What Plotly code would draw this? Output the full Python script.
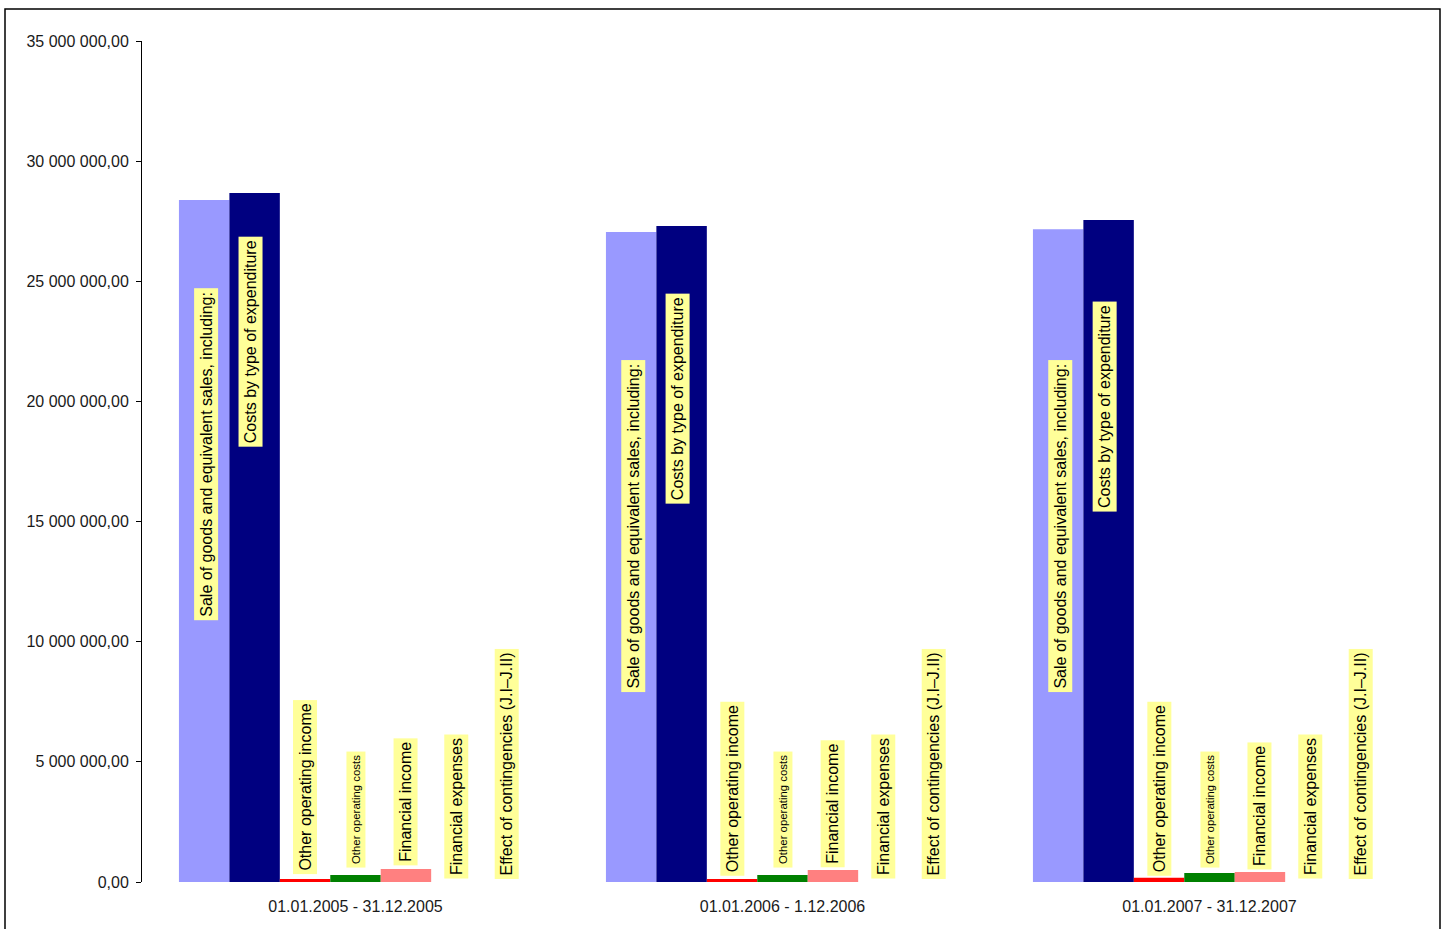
import plotly.graph_objects as go

# Reporting periods (x categories)
periods = ["01.01.2005 - 31.12.2005", "01.01.2006 - 1.12.2006", "01.01.2007 - 31.12.2007"]

# Series names, one bar per period
series_names = [
    "Sale of goods and equivalent sales, including:",
    "Costs by type of expenditure",
    "Other operating income",
    "Other operating costs",
    "Financial income",
    "Financial expenses",
    "Effect of contingencies (J.I\u2013J.II)",
]

# Values (PLN) per series, per period
sales = [28380000, 27050000, 27170000]
costs = [28670000, 27300000, 27550000]
other_op_income = [120000, 120000, 180000]
other_op_costs = [290000, 290000, 370000]
fin_income = [540000, 500000, 420000]
fin_expenses = [0, 0, 0]
contingencies = [0, 0, 0]
values = [sales, costs, other_op_income, other_op_costs, fin_income, fin_expenses, contingencies]

colors = ["#9999FF", "#000080", "#FF0000", "#008000", "#FF8080", "#0066CC", "#CCCCFF"]

# y-axis ticks
tick_vals = [0, 5000000, 10000000, 15000000, 20000000, 25000000, 30000000, 35000000]
tick_text = ["0,00", "5 000 000,00", "10 000 000,00", "15 000 000,00",
             "20 000 000,00", "25 000 000,00", "30 000 000,00", "35 000 000,00"]

# Where each series-name label box starts (bottom edge, y units), per period
label_base = [
    [10860000, 7870000, 7870000],
    [18100000, 15730000, 15400000],
    [290000, 220000, 220000],
    [580000, 580000, 580000],
    [670000, 590000, 500000],
    [120000, 120000, 120000],
    [120000, 120000, 120000],
]
label_size = [16, 16, 16, 11.4, 16, 16, 16]
label_dx = [2, -4, 0, 0, 0, 0, 0]  # small horizontal nudges, px

BARGAP = 0.173
n = len(series_names)
bar_w = (1 - BARGAP) / n
xpos = list(range(len(periods)))

fig = go.Figure()
for i, name in enumerate(series_names):
    fig.add_trace(go.Bar(
        x=xpos, y=values[i], name=name,
        marker=dict(color=colors[i], line=dict(width=0)),
        hoverinfo="name+y",
    ))

font_family = "Arial, Liberation Sans, sans-serif"

annotations = []
for i, name in enumerate(series_names):
    for c in xpos:
        xc = c - (1 - BARGAP) / 2 + (i + 0.5) * bar_w
        annotations.append(dict(
            x=xc, y=label_base[i][c], xref="x", yref="y",
            text=name, textangle=-90, showarrow=False,
            xanchor="center", yanchor="bottom", xshift=label_dx[i],
            bgcolor="#FFFF99", borderpad=3,
            font=dict(family=font_family, size=label_size[i], color="#000000"),
        ))

fig.update_layout(
    width=1448, height=929,
    margin=dict(l=142, r=25, t=41, b=47),
    paper_bgcolor="white", plot_bgcolor="white",
    barmode="group", bargap=BARGAP, bargroupgap=0,
    showlegend=False,
    annotations=annotations,
    font=dict(family=font_family, size=16, color="#1a1a1a"),
    xaxis=dict(
        range=[-0.5, 2.5], tickmode="array", tickvals=xpos, ticktext=periods,
        showgrid=False, zeroline=False, showline=False, ticks="",
        ticklabelstandoff=13,
        tickfont=dict(size=16, color="#1a1a1a"),
    ),
    yaxis=dict(
        range=[0, 35000000], tickmode="array", tickvals=tick_vals, ticktext=tick_text,
        showgrid=False, zeroline=False, showline=True, linecolor="#000000", linewidth=1,
        ticks="outside", ticklen=5, tickcolor="#000000", ticklabelstandoff=4,
        tickfont=dict(size=16, color="#1a1a1a"),
    ),
    shapes=[dict(
        type="rect", xref="paper", yref="paper",
        x0=(5 - 142) / 1281, x1=(1440 - 142) / 1281,
        y0=-0.2, y1=(882 - 9) / 841,
        line=dict(color="#000000", width=1.5), fillcolor="rgba(0,0,0,0)", layer="below",
    )],
)

fig.write_html("out.html")
